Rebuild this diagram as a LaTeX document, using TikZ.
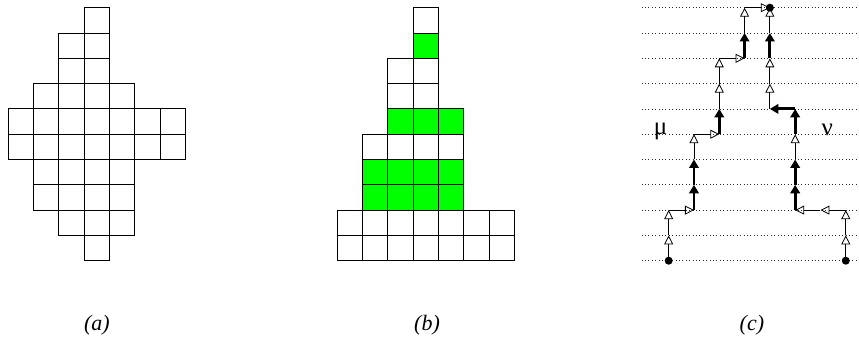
\documentclass[tikz,border=0pt]{standalone}
\usepackage{fontspec}
\setmainfont{Liberation Serif}
\usepackage{tikz}
\usetikzlibrary{arrows.meta}
\definecolor{lpInk}{HTML}{000000}
\definecolor{lpGreen}{HTML}{00FF00}
\definecolor{lpDots}{HTML}{2B2B2B}
\tikzset{
  % one square of a diagram
  cell/.style={draw=lpInk,line width=0.9pt,fill=white},
  % marked square (green)
  gcell/.style={cell,fill=lpGreen},
  % dotted level line
  guide/.style={draw=lpDots,line width=0.7pt,dash pattern=on 0.8pt off 2.6pt},
  % thin unit step, open head
  ostep/.style={draw=lpInk,line width=0.8pt,
    -{Triangle[open,length=9pt,width=9pt]}},
  % thick unit step, filled head
  fstep/.style={draw=lpInk,line width=2.8pt,
    -{Triangle[length=8.5pt,width=9.5pt]}},
  enddot/.style={fill=lpInk},
  capt/.style={font=\fontsize{22}{26}\selectfont\itshape},
  greek/.style={font=\fontsize{25}{29}\selectfont,inner sep=0pt,anchor=base},
}

\begin{document}
\begin{tikzpicture}[x=25.3pt,y=-25.3pt]
  \useasboundingbox (0,0) rectangle (33.953,13.439);

  % (a) symmetric diagram
  \begin{scope}[shift={(0.328,0.304)}]
    \foreach \r/\a/\b in {0/3/3,1/2/3,2/2/3,3/1/4,4/0/6,
                          5/0/6,6/1/4,7/1/4,8/2/4,9/3/3}
      \foreach \c in {\a,...,\b}
        \draw[cell] (\c,\r) rectangle ++(1,1);
  \end{scope}

  % (b) diagram with marked rows
  \begin{scope}[shift={(13.33,0.304)}]
    \foreach \r/\a/\b/\s in {0/3/3/cell,1/3/3/gcell,2/2/3/cell,3/2/3/cell,
                             4/2/4/gcell,5/1/4/cell,6/1/4/gcell,7/1/4/gcell,
                             8/0/6/cell,9/0/6/cell}
      \foreach \c in {\a,...,\b}
        \draw[\s] (\c,\r) rectangle ++(1,1);
  \end{scope}

  % (c) two lattice paths
  \begin{scope}[shift={(26.43,0.304)}]
    \foreach \r in {0,...,10}
      \draw[guide] (-1.07,\r) -- (7.52,\r);

    \foreach \n/\c/\r in {m0/0/10,m1/0/9,m2/0/8,m3/1/8,m4/1/7,m5/1/6,
                          m6/1/5,m7/2/5,m8/2/4,m9/2/3,m10/2/2,m11/3/2,
                          m12/3/1,m13/3/0,m14/4/0}
      \coordinate (\n) at (\c,\r);
    \foreach \n/\c/\r in {n0/7/10,n1/7/9,n2/7/8,n3/6/8,n4/5/8,n5/5/7,
                          n6/5/6,n7/5/5,n8/5/4,n9/4/4,n10/4/3,n11/4/2,
                          n12/4/1,n13/4/0}
      \coordinate (\n) at (\c,\r);

    \foreach \p/\q/\s in {m0/m1/ostep,m1/m2/ostep,m2/m3/ostep,m3/m4/fstep,
                          m4/m5/fstep,m5/m6/ostep,m6/m7/ostep,m7/m8/fstep,
                          m8/m9/ostep,m9/m10/ostep,m10/m11/ostep,
                          m11/m12/fstep,m12/m13/ostep,m13/m14/ostep}
      \draw[\s] (\p) -- (\q);
    \foreach \p/\q/\s in {n0/n1/ostep,n1/n2/ostep,n2/n3/ostep,n3/n4/ostep,
                          n4/n5/fstep,n5/n6/fstep,n6/n7/ostep,n7/n8/fstep,
                          n8/n9/fstep,n9/n10/ostep,n10/n11/ostep,
                          n11/n12/fstep,n12/n13/ostep}
      \draw[\s] (\p) -- (\q);

    \fill[enddot] (m0) circle (4pt);
    \fill[enddot] (n0) circle (4pt);
    \fill[enddot] (m14) circle (4pt);

    \node[greek] (mu) at (-0.32,5.03) {μ};
    \node[greek] (nu) at (6.27,5.05) {ν};
  \end{scope}

  \node[capt] (capa) at (3.83,12.85) {(a)};
  \node[capt] (capb) at (16.88,12.85) {(b)};
  \node[capt] (capc) at (29.72,12.85) {(c)};
\end{tikzpicture}
\end{document}
